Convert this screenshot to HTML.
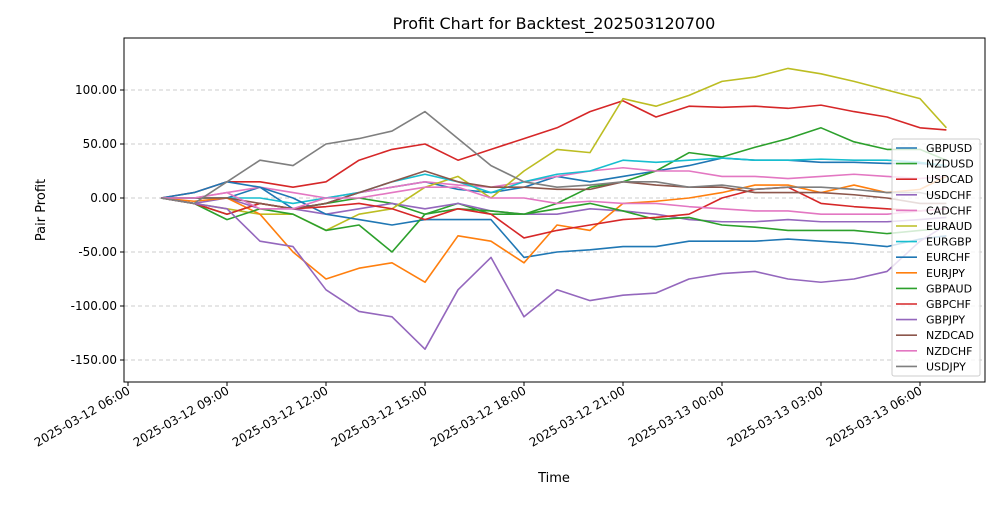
<!DOCTYPE html>
<html><head><meta charset="utf-8"><style>
body{margin:0;background:#fff;font-family:"Liberation Sans","DejaVu Sans",sans-serif}
svg text{font-family:"DejaVu Sans","Liberation Sans",sans-serif}
</style></head><body>
<svg id="chart" width="1000" height="500" xmlns="http://www.w3.org/2000/svg">
<rect width="1000" height="500" fill="#fff"/>
<text x="554" y="29" font-size="16" text-anchor="middle">Profit Chart for Backtest_202503120700</text>
<text x="554" y="482" font-size="13" text-anchor="middle">Time</text>
<text transform="translate(45,210) rotate(-90)" font-size="13" text-anchor="middle">Pair Profit</text>
<g id="grid"></g><g id="series"></g><g id="axes"></g><g id="legend"></g>
</svg>
<script>
const hours=[7,8,9,10,11,12,13,14,15,16,17,18,19,20,21,22,23,24,25,26,27,28,29,30,30.8];
const names=["GBPUSD","NZDUSD","USDCAD","USDCHF","CADCHF","EURAUD","EURGBP","EURCHF","EURJPY","GBPAUD","GBPCHF","GBPJPY","NZDCAD","NZDCHF","USDJPY"];
const colors=["#1f77b4","#2ca02c","#d62728","#9467bd","#e377c2","#bcbd22","#17becf","#1f77b4","#ff7f0e","#2ca02c","#d62728","#9467bd","#8c564b","#e377c2","#7f7f7f"];
const GBPUSD=[0,0,0,10,-10,-5,5,10,15,8,5,10,20,15,20,25,30,37,35,35,33,33,32,32,30];
const NZDUSD=[0,-5,-15,-5,-10,-5,0,-5,-15,-5,-15,-15,-5,10,15,25,42,38,47,55,65,52,45,45,35];
const USDCAD=[0,5,15,15,10,15,35,45,50,35,45,55,65,80,90,75,85,84,85,83,86,80,75,65,63];
const USDCHF=[0,-5,0,-10,-10,-15,-10,-5,-10,-5,-12,-15,-15,-10,-12,-15,-20,-22,-22,-20,-22,-22,-22,-20,-18];
const CADCHF=[0,0,5,10,5,0,5,10,15,12,10,15,20,25,28,25,25,20,20,18,20,22,20,18,20];
const EURAUD=[0,-5,-10,-15,-15,-30,-15,-10,10,20,0,25,45,42,92,85,95,108,112,120,115,108,100,92,65];
const EURGBP=[0,0,0,0,-5,0,5,15,22,15,5,15,22,25,35,33,35,37,35,35,36,35,35,33,30];
const EURCHF=[0,5,15,10,0,-15,-20,-25,-20,-20,-20,-55,-50,-48,-45,-45,-40,-40,-40,-38,-40,-42,-45,-38,-35];
const EURJPY=[0,-3,0,-15,-50,-75,-65,-60,-78,-35,-40,-60,-25,-30,-5,-3,0,5,12,12,5,12,5,8,20];
const GBPAUD=[0,-5,-20,-10,-15,-30,-25,-50,-15,-10,-12,-15,-10,-5,-12,-20,-18,-25,-27,-30,-30,-30,-33,-30,-28];
const GBPCHF=[0,-5,-15,-5,-10,-8,-5,-10,-20,-10,-15,-37,-30,-25,-20,-18,-15,0,8,10,-5,-8,-10,-12,-10];
const GBPJPY=[0,-5,-10,-40,-45,-85,-105,-110,-140,-85,-55,-110,-85,-95,-90,-88,-75,-70,-68,-75,-78,-75,-68,-40,-25];
const NZDCAD=[0,0,0,-5,-10,-5,5,15,25,15,10,10,8,8,15,12,10,10,5,5,5,3,0,-5,-5];
const NZDCHF=[0,0,5,-10,-10,0,0,5,10,10,0,0,-5,-3,-5,-5,-8,-10,-12,-12,-15,-15,-15,-12,-10];
const USDJPY=[0,-5,15,35,30,50,55,62,80,55,30,15,10,12,15,15,10,12,8,10,10,8,5,5,0];
const seriesData=[GBPUSD,NZDUSD,USDCAD,USDCHF,CADCHF,EURAUD,EURGBP,EURCHF,EURJPY,GBPAUD,GBPCHF,GBPJPY,NZDCAD,NZDCHF,USDJPY];
const yTicks=[-150,-100,-50,0,50,100];
const xTickHours=[6,9,12,15,18,21,24,27,30];
const xTickLabels=["2025-03-12 06:00","2025-03-12 09:00","2025-03-12 12:00","2025-03-12 15:00","2025-03-12 18:00","2025-03-12 21:00","2025-03-13 00:00","2025-03-13 03:00","2025-03-13 06:00"];

const NS="http://www.w3.org/2000/svg";
const L=124,R=985,T=38,B=382;
const xS=h=>128+(h-6)*33;
const yS=v=>198-1.08*v;
function mk(tag,attrs,parent){const e=document.createElementNS(NS,tag);for(const k in attrs)e.setAttribute(k,attrs[k]);parent.appendChild(e);return e;}
const grid=document.getElementById('grid'),ser=document.getElementById('series'),axes=document.getElementById('axes'),leg=document.getElementById('legend');
yTicks.forEach(v=>{
  const g=mk('line',{x1:L,x2:R,y1:yS(v),y2:yS(v),stroke:'#ccc','stroke-dasharray':'4,3','stroke-width':1},grid);
  
  
  const t=mk('line',{x1:L-4,x2:L,y1:yS(v),y2:yS(v),stroke:'#000'},axes);
  
  
  const tx=mk('text',{x:L-7,y:yS(v)+4,'font-size':12,'text-anchor':'end'},axes);
  tx.textContent=v.toFixed(2);
  
  
});
xTickHours.forEach((h,i)=>{
  const t=mk('line',{x1:xS(h),x2:xS(h),y1:B,y2:B+4,stroke:'#000'},axes);
  
  
  const tx=mk('text',{transform:`translate(${xS(h)+3},${B+11}) rotate(-30)`,'font-size':12,'text-anchor':'end'},axes);
  tx.textContent=xTickLabels[i];
  
  
});
seriesData.forEach((d,i)=>{
  const p=mk('polyline',{points:d.map((v,j)=>xS(hours[j])+','+yS(v)).join(' '),fill:'none',stroke:colors[i],'stroke-width':1.6,'stroke-linejoin':'round'},ser);
  
  
});
const frame=mk('rect',{x:L,y:T,width:R-L,height:B-T,fill:'none',stroke:'#000','stroke-width':1},axes);


const lb=mk('rect',{x:892,y:139,width:88,height:237,fill:'#fff','fill-opacity':0.8,stroke:'#ccc',rx:2},leg);


names.forEach((n,i)=>{
  const y=148+i*15.6;
  const g=mk('g',{},leg);
  
  
  mk('line',{x1:896,x2:917,y1:y,y2:y,stroke:colors[i],'stroke-width':1.6},g);
  const t=mk('text',{x:926,y:y+4,'font-size':11},g);
  t.textContent=n;
});
</script>
</body></html>
